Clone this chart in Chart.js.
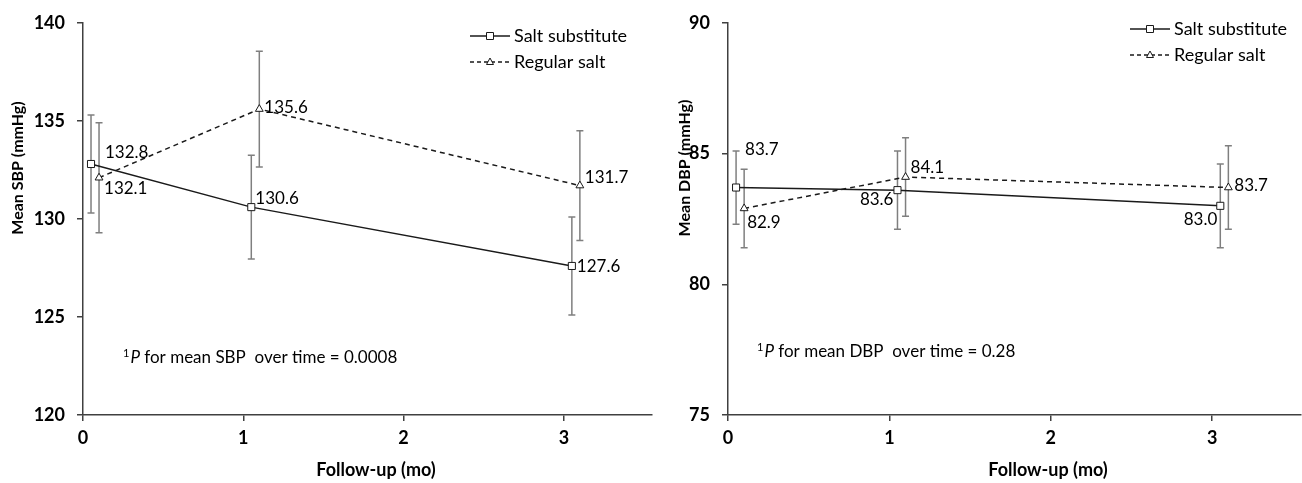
<!DOCTYPE html>
<html>
<head>
<meta charset="utf-8">
<script src="https://cdn.jsdelivr.net/npm/chart.js@4.4.1/dist/chart.umd.min.js"></script>
<style>
  html, body { margin: 0; padding: 0; background: #fff; overflow: hidden; }
  #wrap { position: relative; width: 1302px; height: 483px; overflow: hidden; }
  #sbp { position: absolute; left: 0; top: 0; }
  #dbp { position: absolute; left: 660px; top: 0; }
</style>
</head>
<body>
<div id="wrap">
  <canvas id="sbp" width="660" height="483"></canvas>
  <canvas id="dbp" width="647" height="483"></canvas>
</div>
<script>
// follow-up months
const months = [0, 1, 3];
const seriesNames = ['Salt substitute', 'Regular salt'];

// systolic BP, mean and error bar half width
const sbpSubstitute = [132.8, 130.6, 127.6];
const sbpRegular = [132.1, 135.6, 131.7];
const sbpSubstituteErr = [2.5, 2.65, 2.5];
const sbpRegularErr = [2.8, 2.95, 2.8];

// diastolic BP
const dbpSubstitute = [83.7, 83.6, 83.0];
const dbpRegular = [82.9, 84.1, 83.7];
const dbpSubstituteErr = [1.4, 1.5, 1.6];
const dbpRegularErr = [1.5, 1.5, 1.6];

const sbpTicks = [120, 125, 130, 135, 140];
const dbpTicks = [75, 80, 85, 90];
const monthTicks = [0, 1, 2, 3];

// small x shift so the two series don't sit on top of each other (like the original)
const shiftSubstitute = 0.05;
const shiftRegular = 0.1;

const FONT = 'Lato, "DejaVu Sans", sans-serif';
const INK = '#1a1a1a';
const ERR = '#7f7f7f';
const AXIS = '#404040';

// label offsets [dx, dy, align] for each point
const sbpSubLabels = [[14, -11, 'left'], [4, -9, 'left'], [5, 1, 'left']];
const sbpRegLabels = [[5, 11, 'left'], [5, -2, 'left'], [5, -8, 'left']];
const dbpSubLabels = [[9, -38, 'left'], [-4, 9, 'right'], [-3, 14, 'right']];
const dbpRegLabels = [[3, 14, 'left'], [5, -10, 'left'], [6, -2, 'left']];

const toPoints = (vals, shift) => months.map((m, i) => ({ x: m + shift, y: vals[i] }));

const toErrorBars = (vals, errs, shift) => months.flatMap((m, i) => [
  { x: m + shift, y: vals[i] - errs[i] },
  { x: m + shift, y: vals[i] + errs[i] },
  { x: m + shift, y: null }
]);

const errDataset = (data) => ({
  data,
  showLine: true,
  spanGaps: false,
  borderColor: ERR,
  borderWidth: 1.5,
  pointStyle: 'line',
  pointRadius: 3.5,
  pointBorderColor: ERR,
  pointBorderWidth: 1.5,
  order: 2
});

const buildDatasets = (sub, reg, subErr, regErr, subLab, regLab) => [
  {
    label: seriesNames[0],
    data: toPoints(sub, shiftSubstitute),
    labelPos: subLab,
    showLine: true,
    borderColor: INK,
    borderWidth: 1.5,
    pointStyle: 'rect',
    pointRadius: 5,
    pointBackgroundColor: '#fff',
    pointBorderColor: INK,
    pointBorderWidth: 1,
    order: 0
  },
  {
    label: seriesNames[1],
    data: toPoints(reg, shiftRegular),
    labelPos: regLab,
    showLine: true,
    borderColor: INK,
    borderWidth: 1.5,
    borderDash: [5, 4],
    pointStyle: 'triangle',
    pointRadius: 4.5,
    pointBackgroundColor: '#fff',
    pointBorderColor: INK,
    pointBorderWidth: 1,
    order: 1
  },
  errDataset(toErrorBars(sub, subErr, shiftSubstitute)),
  errDataset(toErrorBars(reg, regErr, shiftRegular))
];

// draws value labels, the legend, axis titles and the P note
const extrasPlugin = {
  id: 'extras',
  afterDatasetsDraw(chart, args, opts) {
    const ctx = chart.ctx;
    ctx.save();
    ctx.fillStyle = '#000';
    ctx.textBaseline = 'middle';

    // value labels
    ctx.font = '17px ' + FONT;
    chart.data.datasets.forEach((ds, i) => {
      if (!ds.labelPos) return;
      const meta = chart.getDatasetMeta(i);
      meta.data.forEach((pt, j) => {
        const [dx, dy, align] = ds.labelPos[j];
        ctx.textAlign = align;
        ctx.fillText(ds.data[j].y.toFixed(1), pt.x + dx, pt.y + dy);
      });
    });

    // legend: line sample + marker + text
    const lg = opts.legend;
    seriesNames.forEach((name, i) => {
      const y = lg.y + i * 26;
      ctx.strokeStyle = INK;
      ctx.lineWidth = 1.5;
      ctx.setLineDash(i ? [4, 3] : []);
      ctx.beginPath();
      ctx.moveTo(lg.x, y);
      ctx.lineTo(lg.x + 40, y);
      ctx.stroke();
      ctx.setLineDash([]);
      ctx.lineWidth = 1;
      ctx.fillStyle = '#fff';
      ctx.beginPath();
      if (i === 0) {
        ctx.rect(lg.x + 16.5, y - 3.5, 7, 7);
      } else {
        ctx.moveTo(lg.x + 20, y - 4);
        ctx.lineTo(lg.x + 23.5, y + 2.5);
        ctx.lineTo(lg.x + 16.5, y + 2.5);
        ctx.closePath();
      }
      ctx.fill();
      ctx.stroke();
      ctx.fillStyle = '#000';
      ctx.textAlign = 'left';
      ctx.font = '18px ' + FONT;
      ctx.fillText(name, lg.x + 44, y);
    });

    // P value note
    const n = opts.note;
    ctx.textAlign = 'left';
    ctx.font = '11px ' + FONT;
    ctx.fillText('1', n.x, n.y - 5);
    let x = n.x + ctx.measureText('1').width + 1;
    ctx.font = 'italic 17px ' + FONT;
    ctx.fillText('P', x, n.y);
    x += ctx.measureText('P').width;
    ctx.font = '17px ' + FONT;
    ctx.fillText(n.text, x, n.y);

    // axis titles
    ctx.font = 'bold 18px ' + FONT;
    ctx.textAlign = 'center';
    ctx.fillText('Follow-up (mo)', opts.xTitle.x, opts.xTitle.y);
    ctx.font = 'bold 16px ' + FONT;
    ctx.translate(opts.yTitle.x, opts.yTitle.y);
    ctx.rotate(-Math.PI / 2);
    ctx.fillText(opts.yTitle.text, 0, 0);
    ctx.restore();
  }
};

const tickFont = { family: FONT, size: 18, weight: 'bold' };

const makeScales = (yTicks, yWidth) => ({
  x: {
    type: 'linear',
    min: 0,
    max: 3.55,
    afterFit: (s) => { s.height = 68; },
    afterBuildTicks: (s) => { s.ticks = monthTicks.map(v => ({ value: v })); },
    ticks: { padding: 6, font: tickFont, color: '#000', maxRotation: 0 },
    grid: { drawOnChartArea: false, tickLength: 6, color: AXIS, lineWidth: 1.5 },
    border: { color: AXIS, width: 1.5 }
  },
  y: {
    type: 'linear',
    min: yTicks[0],
    max: yTicks[yTicks.length - 1],
    afterFit: (s) => { s.width = yWidth; },
    afterBuildTicks: (s) => { s.ticks = yTicks.map(v => ({ value: v })); },
    ticks: { padding: 12, font: tickFont, color: '#000' },
    grid: { drawOnChartArea: false, tickLength: 6, color: AXIS, lineWidth: 1.5 },
    border: { color: AXIS, width: 1.5 }
  }
});

const makeChart = (id, datasets, yTicks, yWidth, padRight, extras) => new Chart(document.getElementById(id), {
  type: 'scatter',
  data: { datasets },
  options: {
    responsive: false,
    animation: false,
    events: [],
    layout: { padding: { top: 20, right: padRight, left: 0, bottom: 0 } },
    scales: makeScales(yTicks, yWidth),
    plugins: {
      legend: { display: false },
      tooltip: { enabled: false },
      extras
    }
  },
  plugins: [extrasPlugin]
});

makeChart('sbp',
  buildDatasets(sbpSubstitute, sbpRegular, sbpSubstituteErr, sbpRegularErr, sbpSubLabels, sbpRegLabels),
  sbpTicks, 83, 8, {
    legend: { x: 470, y: 36 },
    note: { x: 123, y: 358, text: ' for mean SBP  over time = 0.0008' },
    xTitle: { x: 376, y: 470 },
    yTitle: { x: 18, y: 168, text: 'Mean SBP (mmHg)' }
  });

makeChart('dbp',
  buildDatasets(dbpSubstitute, dbpRegular, dbpSubstituteErr, dbpRegularErr, dbpSubLabels, dbpRegLabels),
  dbpTicks, 68, 0, {
    legend: { x: 470, y: 29 },
    note: { x: 97, y: 352, text: ' for mean DBP  over time = 0.28' },
    xTitle: { x: 388, y: 470 },
    yTitle: { x: 25, y: 168, text: 'Mean DBP (mmHg)' }
  });
</script>
</body>
</html>
